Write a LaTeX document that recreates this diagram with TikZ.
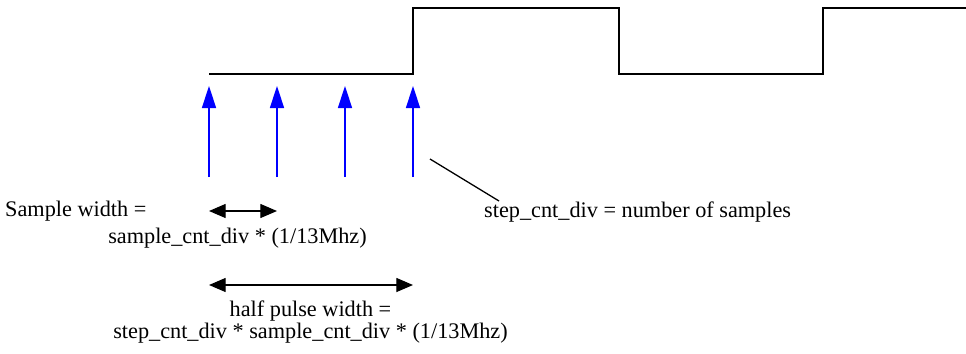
\documentclass[tikz,border=0pt]{standalone}
\usepackage{fontspec}
\setmainfont{Liberation Serif}
\usetikzlibrary{arrows.meta}

\begin{document}
\begin{tikzpicture}[
  x=0.03cm, y=-0.03cm,
  wave/.style={draw, line width=1.3pt},
  sample/.style={draw=blue, line width=1.3pt,
                 -{Triangle[length=0.66cm, width=0.42cm]}},
  span/.style={draw, line width=1.1pt,
               {Triangle[length=0.5cm, width=0.42cm]}-{Triangle[length=0.5cm, width=0.42cm]}},
  note/.style={font=\fontsize{19}{18.7}\selectfont, inner sep=0pt, align=center}
]
  \useasboundingbox (0,0) rectangle (966,353);
  % Clock waveform
  \coordinate (w0) at (209,74);
  \coordinate (w1) at (413,74);
  \coordinate (w2) at (413,8);
  \coordinate (w3) at (619,8);
  \coordinate (w4) at (619,74);
  \coordinate (w5) at (823,74);
  \coordinate (w6) at (823,8);
  \coordinate (w7) at (966,8);
  \draw[wave] (w0) -- (w1) -- (w2) -- (w3) -- (w4) -- (w5) -- (w6) -- (w7);
  % Sample points
  \foreach \i/\x in {1/209, 2/277, 3/345, 4/413} {
    \coordinate (s\i) at (\x,177);
    \coordinate (t\i) at (\x,86);
    \draw[sample] (s\i) -- (t\i);
  }
  % Sample width
  \coordinate (sw1) at (209,211);
  \coordinate (sw2) at (277,211);
  \draw[span] (sw1) -- (sw2);
  \node[note, anchor=west] (swl) at (5,211) {Sample width =};
  \node[note] (swf) at (237.5,238) {sample\_cnt\_div * (1/13Mhz)};
  % Half pulse width
  \coordinate (hp1) at (209,285);
  \coordinate (hp2) at (413,285);
  \draw[span] (hp1) -- (hp2);
  \node[note] (hpl) at (310.5,322) {half pulse width =\\step\_cnt\_div * sample\_cnt\_div * (1/13Mhz)};
  % Number of samples
  \node[note, anchor=west] (ns) at (484,212) {step\_cnt\_div = number of samples};
  \coordinate (ln1) at (430,159);
  \coordinate (ln2) at (499,201);
  \draw[line width=1.1pt] (ln1) -- (ln2);
\end{tikzpicture}
\end{document}
